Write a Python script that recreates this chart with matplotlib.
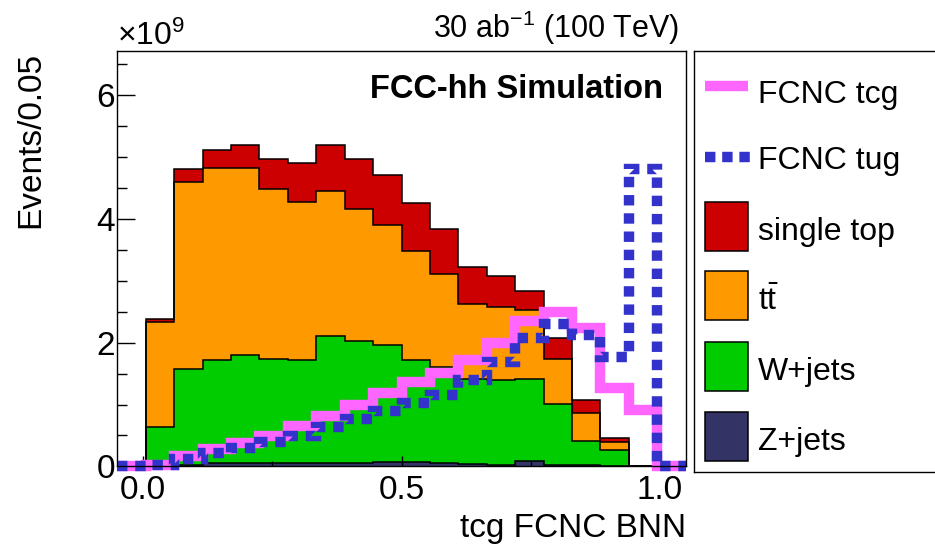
import numpy as np
import matplotlib
matplotlib.use('Agg')
import matplotlib.pyplot as plt
from matplotlib.patches import Rectangle
from matplotlib.lines import Line2D
from matplotlib.ticker import MultipleLocator

plt.rcParams['font.family'] = ['Liberation Sans', 'DejaVu Sans']
plt.rcParams['mathtext.fontset'] = 'custom'
plt.rcParams['mathtext.rm'] = 'Liberation Sans'
plt.rcParams['mathtext.it'] = 'Liberation Sans:italic'
plt.rcParams['mathtext.bf'] = 'Liberation Sans:bold'

# binning: 20 bins between -0.05 and 1.05
x_lo, x_hi, n_bins = -0.05, 1.05, 20

# backgrounds, units of 1e9 events per bin
z_jets = [0, 0.02, 0.03, 0.06, 0.06, 0.06, 0.06, 0.06, 0.06, 0.07,
          0.07, 0.05, 0.04, 0.03, 0.09, 0.03, 0.02, 0.01, 0, 0]
w_jets = [0, 0.61, 1.54, 1.66, 1.74, 1.68, 1.66, 2.04, 1.97, 1.90,
          1.65, 1.55, 1.37, 1.36, 1.33, 0.98, 0.39, 0.25, 0, 0]
ttbar = [0, 1.70, 3.03, 3.10, 3.02, 2.74, 2.55, 2.35, 2.13, 1.94,
         1.76, 1.51, 1.21, 1.19, 1.11, 0.72, 0.45, 0.135, 0, 0]
single_top = [0, 0.06, 0.20, 0.29, 0.38, 0.49, 0.63, 0.75, 0.81, 0.80,
              0.77, 0.73, 0.60, 0.50, 0.31, 0.34, 0.22, 0.06, 0, 0]

# signals (scaled)
fcnc_tcg = [0, 0.02, 0.17, 0.28, 0.38, 0.49, 0.65, 0.82, 0.99, 1.18,
            1.36, 1.51, 1.72, 1.99, 2.35, 2.49, 2.23, 1.26, 0.91, 0]
fcnc_tug = [0, 0.02, 0.115, 0.21, 0.29, 0.39, 0.49, 0.63, 0.76, 0.90,
            1.03, 1.155, 1.39, 1.69, 2.07, 2.31, 2.125, 1.775, 4.8, 0]

bkg_names = ['Z+jets', 'W+jets', r'$\mathregular{t\bar{t}}$', 'single top']
bkg_colors = ['#333366', '#00CC00', '#FF9900', '#CC0000']

W, H = 935, 546


def fx(px):
    return px / W


def fy(py):
    return 1 - py / H


fig = plt.figure(figsize=(W / 100, H / 100), dpi=100)
ax = fig.add_axes([fx(117.3), fy(466.4), (685.7 - 117.3) / W, (466.4 - 50.7) / H])

edges = np.linspace(x_lo, x_hi, n_bins + 1)

# stacked backgrounds
bottom = np.zeros(n_bins)
for vals, col in zip([z_jets, w_jets, ttbar, single_top], bkg_colors):
    top = bottom + np.array(vals)
    ax.stairs(top, edges, baseline=bottom, fill=True, facecolor=col,
              edgecolor='none', zorder=2)
    ax.stairs(top, edges, baseline=None, color='black', linewidth=1.1, zorder=3)
    bottom = top

# signals
ax.stairs(fcnc_tcg, edges, color='#FF66FF', linewidth=7.5, zorder=4, clip_on=False)
ax.stairs(fcnc_tug, edges, color='#3333CC', linewidth=7.5, zorder=5, clip_on=False,
          linestyle=(0, (1, 0.75)))

ax.set_xlim(x_lo, x_hi)
ax.set_ylim(0, 6.72)
ax.set_xticks([0.0, 0.5, 1.0])
ax.set_xticklabels(['0.0', '0.5', '1.0'])
ax.set_yticks([0, 2, 4, 6])
ax.set_yticklabels(['0', '2', '4', '6'])
ax.xaxis.set_minor_locator(MultipleLocator(0.25))
ax.yaxis.set_minor_locator(MultipleLocator(0.5))
ax.tick_params(which='both', direction='in', labelsize=24, width=1.0,
               top=False, right=False)
ax.tick_params(axis='y', which='major', length=13, pad=1.5)
ax.tick_params(axis='y', which='minor', length=7.5)
ax.tick_params(axis='x', which='major', length=7, pad=6)
ax.tick_params(axis='x', which='minor', length=3.6)
for sp in ax.spines.values():
    sp.set_linewidth(1.0)
    sp.set_zorder(6)
ax.set_axisbelow(False)

# texts
fig.text(fx(117), fy(45), r'$\mathregular{\times 10^{9}}$', fontsize=23,
         ha='left', va='baseline')
fig.text(fx(679), fy(38), r'30 ab$\mathregular{^{-1}}$ (100 TeV)', fontsize=22,
         ha='right', va='baseline')
fig.text(fx(663), fy(98.3), 'FCC-hh Simulation', fontsize=23.5, fontweight='bold',
         ha='right', va='baseline')
fig.text(fx(31), fy(52), 'Events/0.05', fontsize=24, rotation=90,
         ha='center', va='top')
fig.text(fx(686), fy(536.7), 'tcg FCNC BNN', fontsize=24,
         ha='right', va='baseline')

# legend box drawn in its own pixel-space axes
lx0, ly0, lx1, ly1 = 694.3, 50.7, 950, 471.7
lax = fig.add_axes([fx(lx0), fy(ly1), (lx1 - lx0) / W, (ly1 - ly0) / H])
lax.set_xlim(lx0, lx1)
lax.set_ylim(ly1, ly0)
lax.set_xticks([])
lax.set_yticks([])
for sp in lax.spines.values():
    sp.set_linewidth(1.0)

key_x0, key_x1, text_x = 705, 748, 758
lax.add_line(Line2D([key_x0, key_x1], [85.5, 85.5], color='#FF66FF', linewidth=7.5,
                    solid_capstyle='butt'))
lax.text(text_x, 103, 'FCNC tcg', fontsize=23, va='baseline')
lax.add_line(Line2D([key_x0, key_x1 + 2], [157, 157], color='#3333CC', linewidth=7.5,
                    linestyle=(0, (1, 0.65))))
lax.text(text_x, 169, 'FCNC tug', fontsize=23, va='baseline')

for name, col, yc in zip(bkg_names[::-1], bkg_colors[::-1], [226.2, 295.8, 366.2, 436.2]):
    lax.add_patch(Rectangle((key_x0, yc - 24.5), key_x1 - key_x0, 49,
                            facecolor=col, edgecolor='black', linewidth=1.1))
    lax.text(text_x, yc + 14, name, fontsize=23, va='baseline')

fig.savefig('out.png', dpi=100)
